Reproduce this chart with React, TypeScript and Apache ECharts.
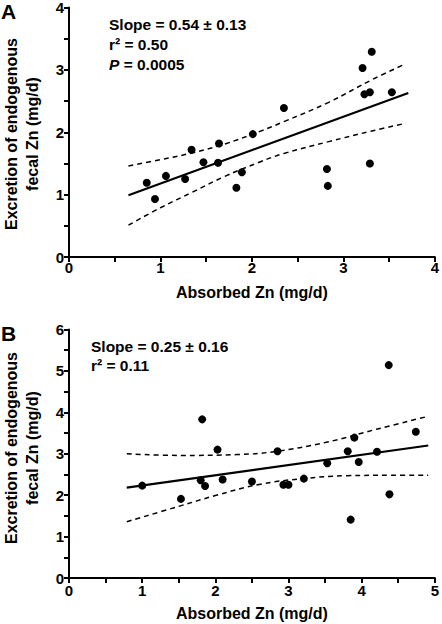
import React, { useEffect, useRef } from "react";
import * as echarts from "echarts";

// Panel A data: absorbed Zn (mg/d), endogenous fecal Zn (mg/d)
const pointsA: [number, number][] = [
  [0.85, 1.19], [0.94, 0.93], [1.06, 1.30], [1.27, 1.25], [1.34, 1.72],
  [1.47, 1.52], [1.63, 1.51], [1.64, 1.82], [1.83, 1.11], [1.89, 1.36],
  [2.01, 1.97], [2.35, 2.39], [2.82, 1.41], [2.83, 1.14], [3.21, 3.03],
  [3.23, 2.61], [3.29, 2.64], [3.31, 3.29], [3.29, 1.50], [3.53, 2.64],
];
const fitA: [number, number][] = [[0.65, 0.99], [3.71, 2.63]];
const upperA: [number, number][] = [
  [0.65, 1.46], [1.0, 1.56], [1.35, 1.67], [1.7, 1.81], [2.08, 2.01],
  [2.35, 2.17], [2.84, 2.48], [3.31, 2.84], [3.67, 3.09],
];
const lowerA: [number, number][] = [
  [0.65, 0.51], [1.0, 0.79], [1.35, 1.04], [1.7, 1.29], [2.08, 1.52],
  [2.35, 1.66], [2.84, 1.85], [3.31, 2.02], [3.67, 2.14],
];

// Panel B data
const pointsB: [number, number][] = [
  [1.00, 2.23], [1.53, 1.91], [1.80, 2.36], [1.82, 3.83], [1.86, 2.22],
  [2.03, 3.10], [2.10, 2.38], [2.50, 2.33], [2.85, 3.06], [2.93, 2.25],
  [3.00, 2.25], [3.21, 2.40], [3.53, 2.77], [3.81, 3.06], [3.85, 1.41],
  [3.90, 3.39], [3.96, 2.80], [4.21, 3.05], [4.37, 5.14], [4.38, 2.02],
  [4.74, 3.53],
];
const fitB: [number, number][] = [[0.79, 2.18], [4.91, 3.20]];
const upperB: [number, number][] = [
  [0.79, 3.00], [1.5, 2.96], [2.3, 2.98], [2.8, 3.05], [3.5, 3.27],
  [4.2, 3.59], [4.9, 3.90],
];
const lowerB: [number, number][] = [
  [0.79, 1.36], [1.5, 1.73], [2.0, 1.99], [2.6, 2.26], [3.2, 2.40],
  [3.8, 2.47], [4.4, 2.48], [4.91, 2.48],
];

const xTitle = "Absorbed Zn (mg/d)";
const yTitle = "Excretion of endogenous\nfecal Zn (mg/d)";

const FONT = "'Liberation Sans', Arial, Helvetica, sans-serif";

function makeAxis(gridIndex: number, min: number, max: number, labelMargin: number, extra: any = {}) {
  return {
    type: "value",
    gridIndex,
    min,
    max,
    interval: 1,
    axisLine: { show: true, lineStyle: { color: "#000", width: 2 } },
    axisTick: { show: true, length: 5, lineStyle: { color: "#000", width: 2 } },
    minorTick: { show: true, splitNumber: 2, length: 5, lineStyle: { color: "#000", width: 2 } },
    splitLine: { show: false },
    axisLabel: { color: "#000", fontSize: 15, fontWeight: "bold", margin: labelMargin },
    ...extra,
  } as any;
}

function textEl(text: string, x: number, y: number, size: number) {
  return {
    type: "text",
    x,
    y,
    style: {
      text,
      fill: "#000",
      font: `bold ${size}px ${FONT}`,
      align: "left",
      textAlign: "left",
      verticalAlign: "middle",
      textVerticalAlign: "middle",
    },
  };
}

function yTitleEl(y: number) {
  return {
    type: "text",
    x: 22,
    y,
    rotation: Math.PI / 2,
    style: {
      text: yTitle,
      fill: "#000",
      font: `bold 16px ${FONT}`,
      lineHeight: 21,
      align: "center",
      textAlign: "center",
      verticalAlign: "middle",
      textVerticalAlign: "middle",
    },
  };
}

export default function App() {
  const ref = useRef<HTMLDivElement>(null);
  useEffect(() => {
    if (!ref.current) return;
    const chart = echarts.init(ref.current, undefined, { renderer: "svg" });
    const dashed = (data: [number, number][], idx: number) => ({
      type: "line",
      xAxisIndex: idx,
      yAxisIndex: idx,
      data,
      smooth: 0.4,
      symbol: "none",
      lineStyle: { color: "#000", width: 1.5, type: [5, 4] },
      z: 2,
    });
    const fit = (data: [number, number][], idx: number) => ({
      type: "line",
      xAxisIndex: idx,
      yAxisIndex: idx,
      data,
      symbol: "none",
      lineStyle: { color: "#000", width: 2.2 },
      z: 3,
    });
    const scatter = (data: [number, number][], idx: number) => ({
      type: "scatter",
      xAxisIndex: idx,
      yAxisIndex: idx,
      data,
      symbol: "circle",
      symbolSize: 8,
      itemStyle: { color: "#000", opacity: 1 },
      emphasis: { disabled: true },
      z: 4,
    });
    const nameStyle = { color: "#000", fontSize: 16, fontWeight: "bold", verticalAlign: "top" };
    const option: any = {
      animation: false,
      backgroundColor: "#fff",
      grid: [
        { left: 69, top: 6.5, width: 368, height: 250.5 },
        { left: 69, top: 329.5, width: 367, height: 248.5 },
      ],
      xAxis: [
        makeAxis(0, 0, 4, 3, { name: xTitle, nameLocation: "middle", nameGap: 27, nameTextStyle: nameStyle }),
        makeAxis(1, 0, 5, 5, { name: xTitle, nameLocation: "middle", nameGap: 27, nameTextStyle: nameStyle }),
      ],
      yAxis: [makeAxis(0, 0, 4, 5), makeAxis(1, 0, 6, 5)],
      series: [
        dashed(upperA, 0),
        dashed(lowerA, 0),
        fit(fitA, 0),
        scatter(pointsA, 0),
        dashed(upperB, 1),
        dashed(lowerB, 1),
        fit(fitB, 1),
        scatter(pointsB, 1),
      ],
      graphic: [
        textEl("A", 1, 11, 21),
        textEl("B", 1, 333, 21),
        yTitleEl(134),
        yTitleEl(448),
        textEl("Slope = 0.54 \u00b1 0.13", 109, 24, 15.5),
        textEl("r\u00b2 = 0.50", 109, 44, 15.5),
        {
          type: "text",
          x: 109,
          y: 64,
          style: {
            text: "{i|P}{b| = 0.0005}",
            fill: "#000",
            font: `bold 15.5px ${FONT}`,
            align: "left",
            textAlign: "left",
            verticalAlign: "middle",
            textVerticalAlign: "middle",
            rich: {
              i: { fontStyle: "italic", fontWeight: "bold", fontSize: 15.5, fill: "#000", color: "#000" },
              b: { fontWeight: "bold", fontSize: 15.5, fill: "#000", color: "#000" },
            },
          },
        },
        textEl("Slope = 0.25 \u00b1 0.16", 91, 346, 15.5),
        textEl("r\u00b2 = 0.11", 91, 365.5, 15.5),
      ],
    };
    chart.setOption(option);
    return () => chart.dispose();
  }, []);
  return (
    <div
      ref={ref}
      style={{ position: "absolute", left: 0, top: 0, width: 442, height: 624, background: "#fff" }}
    />
  );
}
